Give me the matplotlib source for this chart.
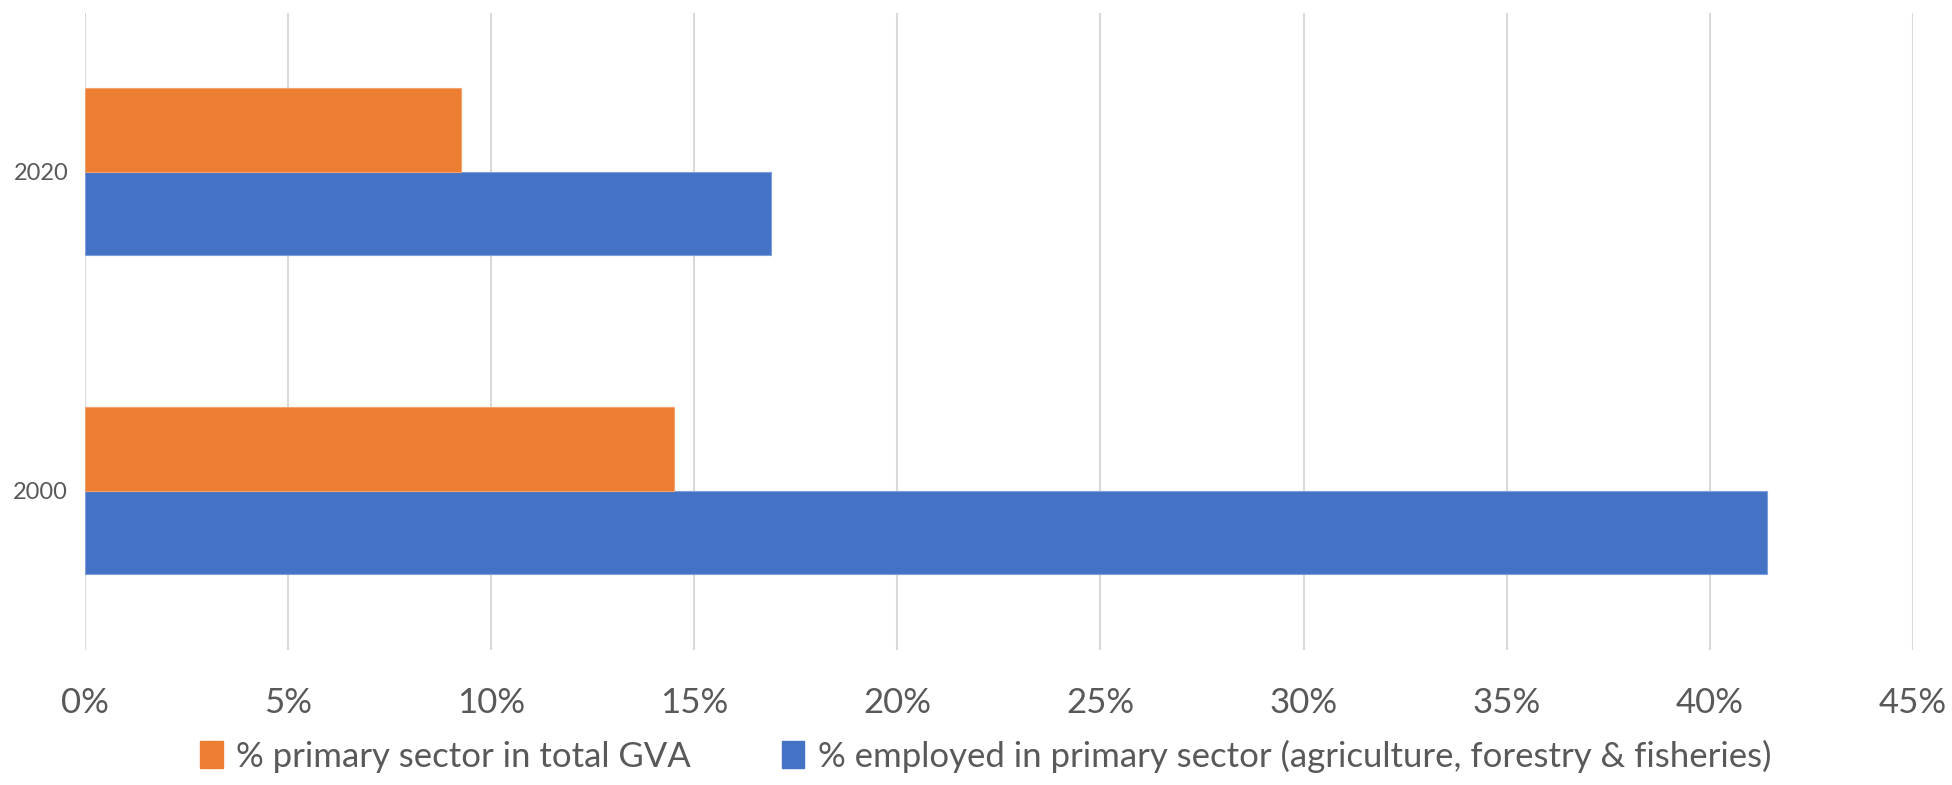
import numpy as np
import matplotlib
matplotlib.use("Agg")
import matplotlib.pyplot as plt
from matplotlib.ticker import FuncFormatter, MultipleLocator
from matplotlib.patches import Patch

# data
years = ['2000', '2020']
gva_share = [14.5, 9.25]          # % primary sector in total GVA
emp_share = [41.4, 16.9]          # % employed in primary sector
lbl_gva = '% primary sector in total GVA'
lbl_emp = '% employed in primary sector (agriculture, forestry & fisheries)'

orange = '#ED7D31'
blue = '#4472C4'
grey = '#595959'

plt.rcParams['font.family'] = ['Lato', 'DejaVu Sans']

fig = plt.figure(figsize=(19.52, 7.85), dpi=100)
ax = fig.add_axes([0.0435, 0.172, 0.9365, 0.812])

y = np.arange(len(years))
h = 0.262
ax.barh(y - h / 2, emp_share, height=h, color=blue, edgecolor='#7f9fd8', linewidth=0.8, zorder=3)
ax.barh(y + h / 2, gva_share, height=h, color=orange, edgecolor='#f2a26e', linewidth=0.8, zorder=3)

ax.set_xlim(0, 45)
ax.set_ylim(-0.5, 1.5)
ax.xaxis.set_major_locator(MultipleLocator(5))
ax.xaxis.set_major_formatter(FuncFormatter(lambda v, p: '%d%%' % round(v)))
ax.set_yticks(y)
ax.set_yticklabels(years)

ax.grid(axis='x', color='#d9d9d9', linewidth=1.5, zorder=0)
for s in ax.spines.values():
    s.set_visible(False)
ax.tick_params(axis='both', length=0)
ax.tick_params(axis='x', labelsize=25, colors=grey, pad=27)
ax.tick_params(axis='y', labelsize=17, colors=grey, pad=12)

handles = [Patch(color=orange, label=lbl_gva), Patch(color=blue, label=lbl_emp)]
fig.legend(handles=handles, loc='lower center', bbox_to_anchor=(0.505, -0.024), ncol=2,
           frameon=False, fontsize=25, labelcolor=grey, handlelength=0.65, handleheight=0.8,
           handletextpad=0.4, columnspacing=2.6)

fig.savefig('out.png', dpi=100)
